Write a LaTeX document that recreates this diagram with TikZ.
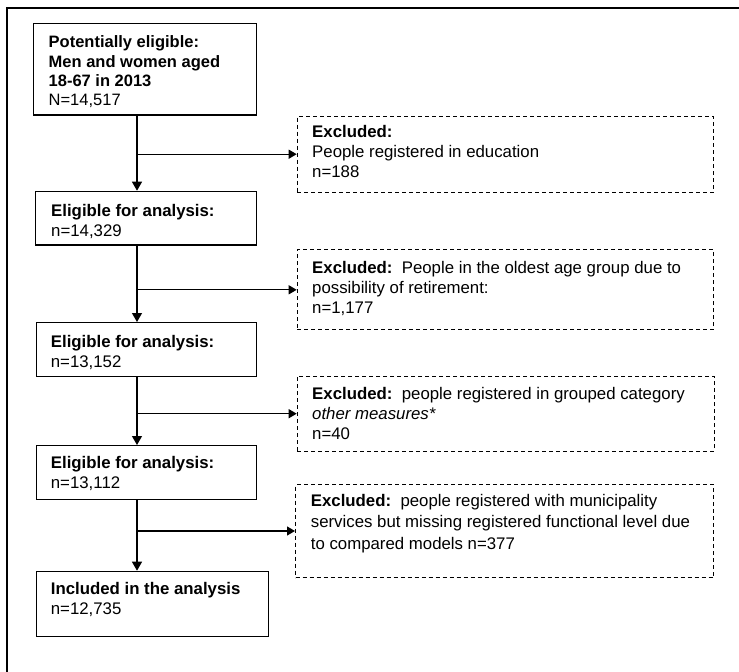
\documentclass[tikz,border=0pt]{standalone}
\usepackage{fontspec}
\setmainfont{Liberation Sans}
\usetikzlibrary{arrows.meta}

\begin{document}
\begin{tikzpicture}[x=1pt,y=-1pt,
  solidbox/.style={draw, line width=1.2pt, anchor=north west, inner sep=0pt},
  dashbox/.style={draw, line width=1pt, dash pattern=on 4pt off 3pt, anchor=north west, inner sep=0pt},
  boxtext/.style={anchor=north west, inner sep=0pt, align=left, font=\fontsize{16.8}{20}\selectfont},
  flow/.style={line width=1.2pt, -{Triangle[width=10pt,length=9pt]}},
  side/.style={line width=1.2pt, -{Triangle[width=9pt,length=8pt]}},
]
\useasboundingbox (0,0) rectangle (739,672);

% outer frame (top and left edges)
\draw[line width=1.2pt] (739,8) -- (7,8) -- (7,672);

% main column
\node[solidbox, minimum width=223.3pt, minimum height=91.6pt] (b1) at (32.7,22.7) {};
\node[solidbox, minimum width=221pt,   minimum height=53.6pt] (b2) at (35,190.7) {};
\node[solidbox, minimum width=220pt,   minimum height=54pt]   (b3) at (35.7,322) {};
\node[solidbox, minimum width=220pt,   minimum height=54pt]   (b4) at (35.7,445) {};
\node[solidbox, minimum width=232.3pt, minimum height=65pt]   (b5) at (35.7,570.7) {};

\node[boxtext, font=\fontsize{16.5}{19.2}\selectfont] (b1t) at (48.5,35.7)
  {\textbf{Potentially eligible:}\\\textbf{Men and women aged}\\\textbf{18-67 in 2013}\\N=14,517};
\node[boxtext] (b2t) at (51,204) {\textbf{Eligible for analysis:}\\n=14,329};
\node[boxtext] (b3t) at (50.7,335) {\textbf{Eligible for analysis:}\\n=13,152};
\node[boxtext] (b4t) at (50.7,455.7) {\textbf{Eligible for analysis:}\\n=13,112};
\node[boxtext] (b5t) at (50.7,582) {\textbf{Included in the analysis}\\n=12,735};

% exclusion boxes
\node[dashbox, minimum width=416.3pt, minimum height=76pt] (e1) at (296.7,115.7) {};
\node[dashbox, minimum width=416.3pt, minimum height=80pt] (e2) at (296.7,249.3) {};
\node[dashbox, minimum width=417pt,   minimum height=75pt] (e3) at (296.7,375.7) {};
\node[dashbox, minimum width=418pt,   minimum height=93pt] (e4) at (295,484) {};

\node[boxtext] (e1t) at (312,125)
  {\textbf{Excluded:}\\People registered in education\\n=188};
\node[boxtext] (e2t) at (312,260.7)
  {\textbf{Excluded:}\ \ People in the oldest age group due to\\possibility of retirement:\\n=1,177};
\node[boxtext] (e3t) at (312,387)
  {\textbf{Excluded:}\ \ people registered in grouped category\\\textit{other measures*}\\n=40};
\node[boxtext, font=\fontsize{16.8}{21.5}\selectfont] (e4t) at (310.7,494)
  {\textbf{Excluded:}\ \ people registered with municipality\\services but missing registered functional level due\\to compared models n=377};

% flow spine and branches
\coordinate (sp) at (137,0);
\draw[flow] (b1.south -| sp) -- (b2.north -| sp);
\draw[flow] (b2.south -| sp) -- (b3.north -| sp);
\draw[flow] (b3.south -| sp) -- (b4.north -| sp);
\draw[flow] (b4.south -| sp) -- (b5.north -| sp);

\coordinate (j1) at (sp |- e1.west);
\coordinate (j2) at (sp |- e2.west);
\coordinate (j3) at (sp |- e3.west);
\coordinate (j4) at (sp |- e4.west);
\draw[side] (j1) -- (e1.west);
\draw[side] (j2) -- (e2.west);
\draw[side] (j3) -- (e3.west);
\draw[side] (j4) -- (e4.west);
\end{tikzpicture}
\end{document}
